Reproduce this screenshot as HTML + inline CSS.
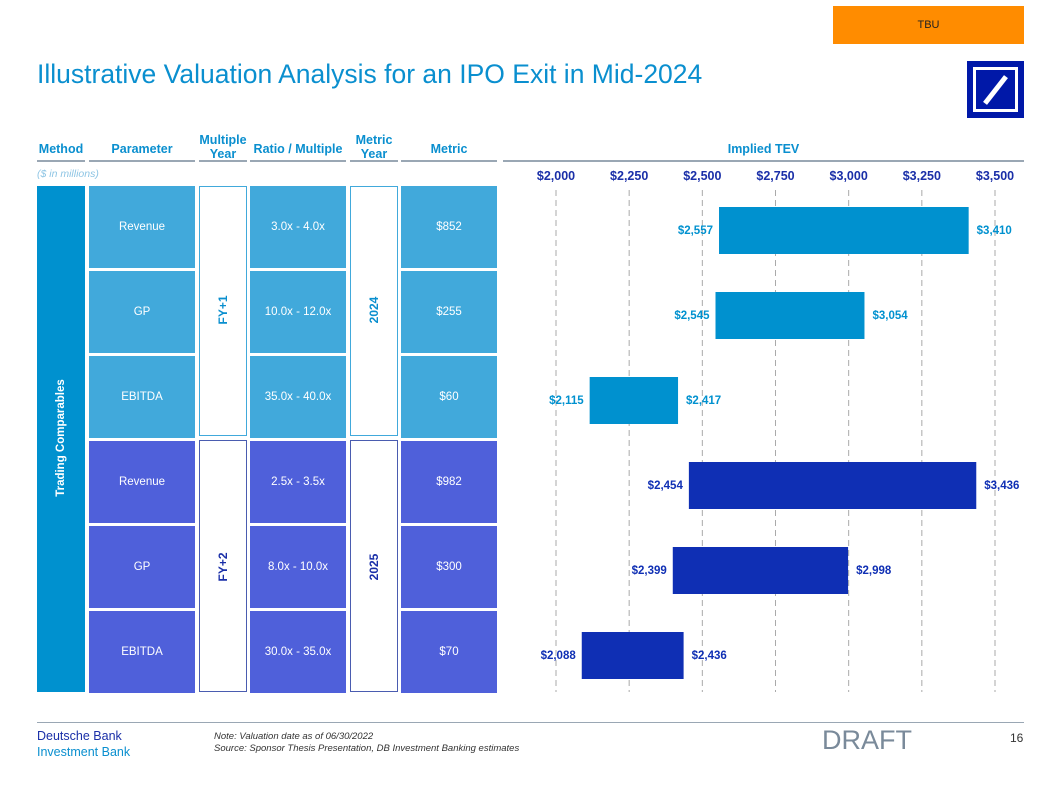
<!DOCTYPE html>
<html><head><meta charset="utf-8"><style>
body{margin:0;width:1057px;height:796px;position:relative;background:#fff;font-family:"Liberation Sans",sans-serif;overflow:hidden}
.a{position:absolute}
.hd{position:absolute;color:#0a8fcf;font-weight:bold;font-size:12.5px;text-align:center;line-height:14px}
.hl{position:absolute;top:160px;height:2px;background:#9aa7b4}
.cell{position:absolute;color:#fff;font-size:11.5px;display:flex;align-items:center;justify-content:center;padding-bottom:0px;box-sizing:border-box}
.yb{position:absolute;background:#fff;box-sizing:border-box}
.vt{position:absolute;transform:rotate(-90deg);font-weight:bold;font-size:12px;white-space:nowrap}
</style></head><body>
<div class="a" style="left:833px;top:6px;width:191px;height:38px;background:#ff8c00;color:#222;font-size:11px;display:flex;align-items:center;justify-content:center">TBU</div>
<div class="a" style="left:37px;top:59px;font-size:26.5px;color:#0a8fcf">Illustrative Valuation Analysis for an IPO Exit in Mid-2024</div>
<div class="a" style="left:967px;top:61px;width:57px;height:57px;background:#0018a8"><div class="a" style="left:6px;top:6px;width:39px;height:39px;border:3px solid #fff"></div><div class="a" style="left:26px;top:12px;width:5px;height:34px;background:#fff;transform:rotate(38deg)"></div></div>

<div class="hd" style="left:37px;top:142px;width:48px">Method</div>
<div class="hd" style="left:89px;top:142px;width:106px">Parameter</div>
<div class="hd" style="left:199px;top:133px;width:48px">Multiple Year</div>
<div class="hd" style="left:250px;top:142px;width:96px">Ratio / Multiple</div>
<div class="hd" style="left:350px;top:133px;width:48px">Metric Year</div>
<div class="hd" style="left:401px;top:142px;width:96px">Metric</div>
<div class="hd" style="left:503px;top:142px;width:521px">Implied TEV</div>
<div class="hl" style="left:37px;width:48px"></div><div class="hl" style="left:89px;width:106px"></div><div class="hl" style="left:199px;width:48px"></div><div class="hl" style="left:250px;width:96px"></div><div class="hl" style="left:350px;width:48px"></div><div class="hl" style="left:401px;width:96px"></div><div class="hl" style="left:503px;width:521px"></div>
<div class="a" style="left:37px;top:168px;font-size:10.5px;font-style:italic;color:#8ec5e4">($ in millions)</div>

<div class="a" style="left:37px;top:186px;width:48px;height:506px;background:#0091cf"></div>
<div class="vt" style="left:-4px;top:432px;width:130px;text-align:center;color:#fff;font-size:11.5px">Trading Comparables</div>
<div class="yb" style="left:199px;top:186px;width:48px;height:250px;border:1.5px solid #41a9db"></div>
<div class="yb" style="left:199px;top:440px;width:48px;height:252px;border:1.5px solid #4a5cb0"></div>
<div class="yb" style="left:350px;top:186px;width:48px;height:250px;border:1.5px solid #41a9db"></div>
<div class="yb" style="left:350px;top:440px;width:48px;height:252px;border:1.5px solid #4a5cb0"></div>
<div class="vt" style="left:203px;top:303px;width:40px;text-align:center;color:#0a8fcf">FY+1</div>
<div class="vt" style="left:203px;top:560px;width:40px;text-align:center;color:#1a2fa8">FY+2</div>
<div class="vt" style="left:354px;top:303px;width:40px;text-align:center;color:#0a8fcf">2024</div>
<div class="vt" style="left:354px;top:560px;width:40px;text-align:center;color:#1a2fa8">2025</div>

<div id="cells"></div>
<svg class="a" style="left:0;top:0" width="1057" height="796" id="chart"></svg>

<div class="a" style="left:37px;top:722px;width:987px;height:1px;background:#9aa7b4"></div>
<div class="a" style="left:37px;top:728px;font-size:12.5px;color:#1a2fa8;line-height:16px">Deutsche Bank<br><span style="color:#0a8fcf">Investment Bank</span></div>
<div class="a" style="left:214px;top:731px;font-size:9.5px;font-style:italic;color:#333;line-height:12px">Note: Valuation date as of 06/30/2022<br>Source: Sponsor Thesis Presentation, DB Investment Banking estimates</div>
<div class="a" style="left:822px;top:725px;font-size:27px;color:#7a8a9a">DRAFT</div>
<div class="a" style="left:1010px;top:731px;font-size:12px;color:#333">16</div>

<script>
const params=["Revenue","GP","EBITDA","Revenue","GP","EBITDA"];
const ratios=["3.0x - 4.0x","10.0x - 12.0x","35.0x - 40.0x","2.5x - 3.5x","8.0x - 10.0x","30.0x - 35.0x"];
const metrics=["$852","$255","$60","$982","$300","$70"];
const lows=[2557,2545,2115,2454,2399,2088];
const highs=[3410,3054,2417,3436,2998,2436];
const ticks=[2000,2250,2500,2750,3000,3250,3500];
const X=v=>556+(v-2000)*(439/1500);
const rowTop=i=>186+85*i;
const fmt=v=>"$"+v.toLocaleString("en-US");
const cells=document.getElementById('cells');
function cell(x,w,i,t,n){const d=document.createElement('div');d.className='cell';


d.style.cssText=`left:${x}px;top:${rowTop(i)}px;width:${w}px;height:82px;background:${i<3?'#41a9db':'#4f60da'}`;d.textContent=t;cells.appendChild(d);}
params.forEach((p,i)=>{cell(89,106,i,p,'parameter-cell');cell(250,96,i,ratios[i],'ratio-cell');cell(401,96,i,metrics[i],'metric-cell');});
const svg=document.getElementById('chart');const NS="http://www.w3.org/2000/svg";
function el(t,a){const e=document.createElementNS(NS,t);for(const k in a)e.setAttribute(k,a[k]);svg.appendChild(e);return e;}
ticks.forEach(t=>{const l=el('line',{x1:X(t),x2:X(t),y1:190,y2:692,stroke:'#aaa','stroke-dasharray':'6,4','stroke-width':1});


const tx=el('text',{x:X(t),y:180,'text-anchor':'middle','font-size':12.5,'font-weight':'bold',fill:'#1a2fa8','font-family':'Liberation Sans'});tx.textContent=fmt(t);

});
lows.forEach((lo,i)=>{const hi=highs[i];const c=rowTop(i)+44;const col=i<3?'#0091cf':'#0f2fb4';
const r=el('rect',{x:X(lo),y:c-23,width:X(hi)-X(lo),height:47,fill:col});


const a=el('text',{x:X(lo)-6,y:c+4,'text-anchor':'end','font-size':11.5,'font-weight':'bold',fill:col,'font-family':'Liberation Sans'});a.textContent=fmt(lo);


const b=el('text',{x:X(hi)+8,y:c+4,'font-size':11.5,'font-weight':'bold',fill:col,'font-family':'Liberation Sans'});b.textContent=fmt(hi);

});
</script>
</body></html>
